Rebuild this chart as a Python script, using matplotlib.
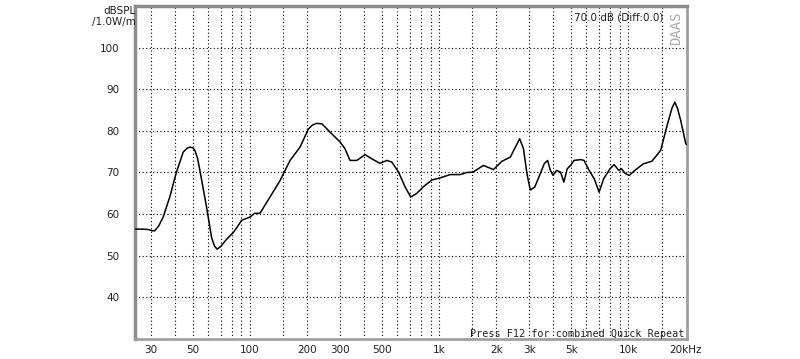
import matplotlib
matplotlib.use("Agg")
import matplotlib.pyplot as plt

freq = [24.7, 27, 29, 30.5, 31.4, 33, 34.8, 37.7, 40.9, 44.4, 46.5, 48.2, 50, 51.2, 52.8, 54.4, 59,
        62.7, 65, 67.1, 70, 75.4, 81.7, 86, 90.3, 100, 106, 113, 127.6, 144, 163, 184, 204, 214,
        225, 240, 265, 300, 318, 338, 367, 406, 440, 487, 529, 562, 610, 661, 708, 762, 826, 915,
        1011, 1143, 1291, 1400, 1510, 1714, 1936, 2146, 2376, 2663, 2790, 2910, 3030, 3200, 3420,
        3590, 3740, 3870, 4000, 4170, 4380, 4560, 4750, 4950, 5160, 5600, 5830, 6200, 6600, 7000,
        7400, 8000, 8400, 8900, 9200, 9600, 10100, 10800, 12000, 13300, 14800, 16100, 17000,
        17600, 18200, 18900, 20100, 20400]
spl = [56.4, 56.4, 56.3, 56.0, 56.0, 57.2, 59.3, 64.1, 70.1, 74.9, 75.8, 76.1, 75.9, 75.3, 73.5,
       70.5, 61.7, 54.4, 52.3, 51.6, 52.2, 54.0, 55.6, 57, 58.5, 59.3, 60.2, 60.2, 64.1, 68, 72.9,
       76.1, 80.5, 81.4, 81.8, 81.7, 79.7, 77.3, 75.7, 72.9, 72.9, 74.3, 73.3, 72.2, 72.9, 72.5,
       70.1, 66.5, 64.1, 65, 66.6, 68.2, 68.7, 69.5, 69.5, 70, 70.1, 71.7, 70.7, 72.7, 73.7, 78.1,
       75.7, 69.7, 65.8, 66.5, 69.7, 72.1, 72.9, 70.5, 69.3, 70.5, 70.1, 67.7, 70.9, 71.7, 72.9,
       73.1, 72.9, 70.5, 68.5, 65.3, 68.5, 70.9, 71.9, 70.5, 70.9, 69.8, 69.3, 70.5, 72.1, 72.7,
       75.3, 81.7, 85.5, 86.9, 85.3, 82.5, 76.9, 76.7]

grid_freqs = [30, 40, 50, 60, 70, 80, 90, 100, 150, 200, 300, 400, 500, 600, 700, 800, 900,
              1000, 1500, 2000, 3000, 4000, 5000, 6000, 7000, 8000, 9000, 10000, 15000]
grid_db = [40, 50, 60, 70, 80, 90, 100]
xtick_vals = [30, 50, 100, 200, 300, 500, 1000, 2000, 3000, 5000, 10000, 20000]
xtick_labels = ["30", "50", "100", "200", "300", "500", "1k", "2k", "3k", "5k", "10k", "20kHz"]
ytick_vals = [40, 50, 60, 70, 80, 90, 100]

fig = plt.figure(figsize=(8, 3.59), dpi=100)
ax = fig.add_axes([135/800, 20/359, 552/800, 333/359])
ax.set_xscale("log")
ax.set_xlim(24.7, 20400)
ax.set_ylim(30, 110)

for f in grid_freqs:
    ax.axvline(f, color="black", lw=0.8, ls=(0, (1, 2.2)), zorder=1)
for d in grid_db:
    ax.axhline(d, color="black", lw=0.8, ls=(0, (1, 2.2)), zorder=1)

ax.plot(freq, spl, color="black", lw=1.1, zorder=3, solid_joinstyle="round")

ax.set_xticks(xtick_vals)
ax.set_xticklabels(xtick_labels)
ax.xaxis.set_minor_locator(matplotlib.ticker.NullLocator())
ax.set_yticks(ytick_vals)
ax.set_yticklabels([str(v) for v in ytick_vals])
ax.tick_params(axis="both", length=0, labelsize=7.5, colors="#222222")
ax.tick_params(axis="x", pad=4)
ax.tick_params(axis="y", pad=11)

for s in ["left", "top"]:
    ax.spines[s].set_color("#8c8c8c")
    ax.spines[s].set_linewidth(2.5)
for s in ["right", "bottom"]:
    ax.spines[s].set_color("#a0a0a0")
    ax.spines[s].set_linewidth(2.0)

fig.text(136/800, 1 - 11/359, "dBSPL", ha="right", va="center", fontsize=7.5, color="#222222")
fig.text(136/800, 1 - 22/359, "/1.0W/m", ha="right", va="center", fontsize=7.5, color="#222222")
fig.text(663/800, 1 - 17/359, "70.0 dB (Diff:0.0)", ha="right", va="center", fontsize=7.5,
         color="#222222")
fig.text(676/800, 1 - 28/359, "DAAS", ha="center", va="center", fontsize=10, rotation=90,
         color="#aaaaaa", family="DejaVu Sans Mono")
fig.text(684/800, 1 - 334/359, "Press F12 for combined Quick Repeat", ha="right", va="center",
         fontsize=7.3, family="DejaVu Sans Mono", color="#222222")

fig.savefig("out.png", dpi=100, facecolor="white")
